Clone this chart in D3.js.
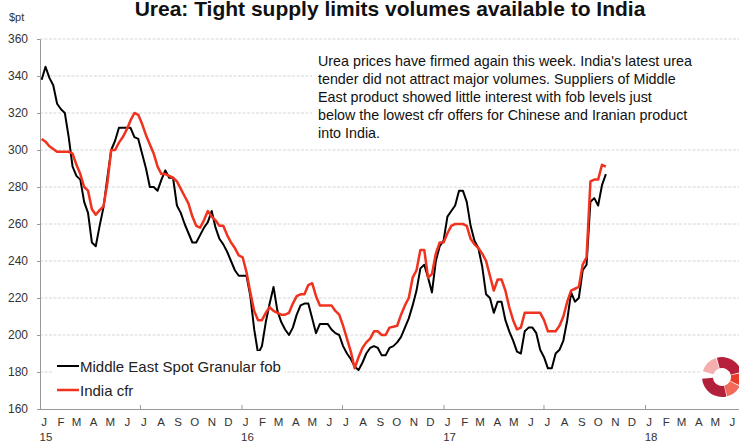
<!DOCTYPE html>
<html>
<head>
<meta charset="utf-8">
<script src="https://cdn.jsdelivr.net/npm/d3@7"></script>
<style>
  body { margin: 0; background: #fff; }
  svg { font-family: "Liberation Sans", Arial, sans-serif; display: block; }
</style>
</head>
<body>
<svg></svg>
<script>
// weekly assessments, first week starting 4 Jan 2015
var firstWeek = new Date(2015, 0, 4);

var fobValues = [338, 345, 339, 335, 325, 322, 320, 307, 291, 286,
  284, 272, 266, 250, 248, 259, 269, 285, 300, 305,
  312, 312, 312, 312, 307, 306, 298, 290, 280, 280,
  278, 284, 289, 285, 285, 270, 266, 260, 255, 250,
  250, 254, 258, 261, 267, 258, 252, 249, 245, 240,
  235, 232, 232, 232, 221, 203, 190, 194, 207, 217,
  226, 213, 207, 203, 200, 204, 211, 216, 217, 217,
  209, 201, 206, 206, 206, 203, 201, 200, 194, 190,
  187, 183, 181, 185, 190, 193, 194, 193, 189, 189,
  193, 194, 196, 199, 204, 209, 216, 224, 236, 238,
  231, 223, 240, 248, 251, 264, 267, 270, 278, 278,
  272, 259, 251, 247, 237, 222, 220, 212, 218, 218,
  208, 202, 197, 191, 190, 202, 204, 204, 201, 192,
  188, 182, 182, 190, 192, 197, 208, 223, 218, 220,
  235, 238, 272, 274, 270, 281, 287];

var cfrValues = [306, 304.5, 302, 300.5, 299, 299, 299, 299, 298, 292,
  287, 280, 278, 268, 265, 267.5, 269.5, 282, 300, 300,
  304, 307, 311, 316, 320, 319, 314, 308, 303, 298,
  291, 287, 287, 286, 285, 283, 279, 275, 271, 264,
  259, 258, 262, 267, 264, 262, 259, 259, 254, 250,
  247, 243, 242, 234, 223, 213, 208, 208, 212, 215,
  213, 212, 211, 211, 212, 217, 221, 222, 222, 227,
  228, 221, 216, 216, 216, 216, 213, 211, 205, 198,
  191, 182, 188, 193, 196, 198, 202, 202, 200, 200,
  204, 204.5, 205, 211, 216, 220, 231, 235, 246, 246,
  231, 233, 244, 250, 250, 255, 259, 260, 260, 260,
  259, 252, 249, 247, 244, 240, 232, 224, 230, 230,
  224, 215, 208, 203, 204, 212, 212, 212, 212, 212,
  208, 202, 202, 202, 205, 210, 218, 224, 225, 226,
  238, 242, 283, 284, 284, 292, 291];

var seriesNames = ["Middle East Spot Granular fob", "India cfr"];
var yTicks = [160, 180, 200, 220, 240, 260, 280, 300, 320, 340, 360];
var monthLetters = ["J", "F", "M", "A", "M", "J", "J", "A", "S", "O", "N", "D"];
var yearLabels = ["15", "16", "17", "18"];
var noteLines = [
  "Urea prices have firmed again this week. India's latest urea",
  "tender did not attract major volumes. Suppliers of Middle",
  "East product showed little interest with fob levels just",
  "below the lowest cfr offers for Chinese and Iranian product",
  "into India."
];
var title = "Urea: Tight supply limits volumes available to India";

var width = 739, height = 443;
var svg = d3.select('svg').attr('width', width).attr('height', height);

var x = d3.scaleTime()
  .domain([new Date(2015, 0, 1), new Date(2018, 6, 1)])
  .range([40, 745]);
var y = d3.scaleLinear()
  .domain([160, 360])
  .range([409, 39]);

var dates = fobValues.map(function(d, i) { return d3.timeDay.offset(firstWeek, 7 * i); });

// title + unit
svg.append('text')
  .attr('x', 390).attr('y', 15.5)
  .attr('text-anchor', 'middle')
  .attr('font-size', 21).attr('font-weight', 'bold')
  .attr('fill', '#111')
  .text(title);
svg.append('text')
  .attr('x', 9).attr('y', 21)
  .attr('font-size', 11).attr('fill', '#333')
  .text('$pt');

// gridlines
svg.append('g').selectAll('line')
  .data(yTicks.slice(1))
  .enter().append('line')
  .attr('x1', 40).attr('x2', width)
  .attr('y1', function(d) { return y(d); })
  .attr('y2', function(d) { return y(d); })
  .attr('stroke', '#d6d6d6')
  .attr('stroke-dasharray', '3,1.5');

// y axis
var yAxis = svg.append('g')
  .attr('transform', 'translate(40,0)')
  .call(d3.axisLeft(y).tickValues(yTicks).tickSize(3).tickPadding(9));
yAxis.select('.domain').attr('stroke', '#999');
yAxis.selectAll('.tick line').attr('stroke', '#999');
yAxis.selectAll('text').attr('font-size', 12).attr('fill', '#333')
  .attr('font-family', '"Liberation Sans", Arial, sans-serif');

// x axis: half-year ticks pointing up
var halfYears = d3.timeMonth.every(6).range(new Date(2015, 0, 1), new Date(2018, 6, 2));
var xAxis = svg.append('g')
  .attr('transform', 'translate(0,409)')
  .call(d3.axisBottom(x).tickValues(halfYears).tickSize(-4).tickFormat(''));
xAxis.select('.domain').attr('stroke', '#999');
xAxis.selectAll('.tick line').attr('stroke', '#999');

var months = d3.timeMonth.range(new Date(2015, 0, 1), new Date(2018, 6, 1));
svg.append('g').selectAll('text')
  .data(months)
  .enter().append('text')
  .attr('x', function(d) { return x(d) + 4; })
  .attr('y', 426)
  .attr('text-anchor', 'middle')
  .attr('font-size', 11.5).attr('fill', '#333')
  .text(function(d) { return monthLetters[d.getMonth()]; });

svg.append('g').selectAll('text')
  .data(yearLabels)
  .enter().append('text')
  .attr('x', function(d, i) { return x(new Date(2015 + i, 0, 1)) + 6; })
  .attr('y', 441)
  .attr('text-anchor', 'middle')
  .attr('font-size', 11.5).attr('fill', '#333')
  .text(function(d) { return d; });

// lines
var line = d3.line()
  .x(function(d, i) { return x(dates[i]); })
  .y(function(d) { return y(d); });

svg.append('path').datum(fobValues)
  .attr('d', line)
  .attr('fill', 'none').attr('stroke', '#000').attr('stroke-width', 2)
  .attr('stroke-linejoin', 'round');
svg.append('path').datum(cfrValues)
  .attr('d', line)
  .attr('fill', 'none').attr('stroke', '#f0321f').attr('stroke-width', 2.5)
  .attr('stroke-linejoin', 'round');

// note
svg.append('rect')
  .attr('x', 312).attr('y', 47).attr('width', 427).attr('height', 96)
  .attr('fill', '#fff');
svg.append('g').selectAll('text')
  .data(noteLines)
  .enter().append('text')
  .attr('x', 318)
  .attr('y', function(d, i) { return 66 + i * 18; })
  .attr('font-size', 14.3).attr('fill', '#111')
  .text(function(d) { return d; });

// legend
var legend = svg.append('g');
legend.append('rect')
  .attr('x', 52).attr('y', 351).attr('width', 233).attr('height', 50)
  .attr('fill', '#fff');
var legendColors = ['#000', '#f0321f'];
seriesNames.forEach(function(name, i) {
  var ly = 366 + i * 24;
  legend.append('line')
    .attr('x1', 57).attr('x2', 79)
    .attr('y1', ly).attr('y2', ly)
    .attr('stroke', legendColors[i]).attr('stroke-width', i ? 2.5 : 2);
  legend.append('text')
    .attr('x', 80).attr('y', ly + 5.5)
    .attr('font-size', 15).attr('fill', '#222')
    .text(name);
});

// logo ring
var logo = svg.append('g').attr('transform', 'translate(722,377)');
logo.append('circle').attr('r', 23).attr('fill', '#fff');
var logoParts = [
  {a0: 287, a1: 342, c: '#f5aeae'},
  {a0: 345, a1: 435, c: '#b81f3a'},
  {a0: 438, a1: 475, c: '#ea3a2a'},
  {a0: 478, a1: 525, c: '#f26a5a'},
  {a0: 527, a1: 625, c: '#b3203b'}
];
var arc = d3.arc().innerRadius(9).outerRadius(20);
logo.selectAll('path')
  .data(logoParts)
  .enter().append('path')
  .attr('d', function(d) {
    return arc({startAngle: d.a0 * Math.PI / 180, endAngle: d.a1 * Math.PI / 180});
  })
  .attr('fill', function(d) { return d.c; });
</script>
</body>
</html>
